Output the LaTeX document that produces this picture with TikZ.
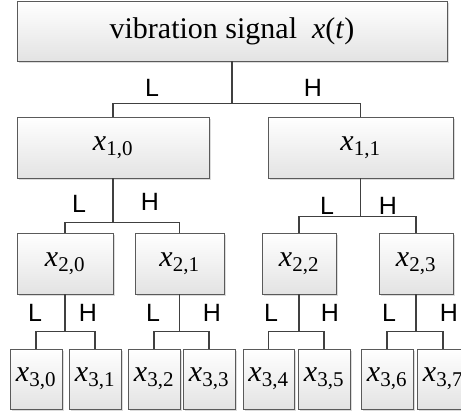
\documentclass[tikz,border=0pt]{standalone}
\usepackage{fontspec}
\setmainfont{Liberation Serif}
\newfontfamily\labelfont{Liberation Sans}
\usetikzlibrary{positioning,shadows}
\definecolor{linegray}{RGB}{64,64,64}
\definecolor{boxedge}{RGB}{90,90,90}
\newcommand{\xs}[1]{\textit{x}\textsubscript{#1}}

\begin{document}
\begin{tikzpicture}[x=1pt,y=-1pt,
  sig/.style={rectangle,draw=boxedge,line width=0.9pt,top color=white,bottom color=gray!22,
              drop shadow={shadow xshift=2pt,shadow yshift=-2pt,fill=gray!55},
              inner sep=0pt,align=center,font=\fontsize{30}{34}\selectfont},
  conn/.style={draw=linegray,line width=1.4pt},
  band/.style={font=\labelfont\fontsize{25}{28}\selectfont,inner sep=0pt}
]
\useasboundingbox (0,0) rectangle (461,414);
\clip (0,0) rectangle (461,414);
% boxes
\node[sig,minimum width=430pt,minimum height=60pt] (sig) at (232,31) {vibration signal~~\textit{x}(\textit{t})};
\node[sig,minimum width=192pt,minimum height=61pt] (x10) at (113,147.5) {\xs{1,0}};
\node[sig,minimum width=185pt,minimum height=61pt] (x11) at (360.5,147.5) {\xs{1,1}};
\node[sig,minimum width=96pt,minimum height=61pt] (x20) at (65,263.5) {\xs{2,0}};
\node[sig,minimum width=89pt,minimum height=61pt] (x21) at (179.5,263.5) {\xs{2,1}};
\node[sig,minimum width=74pt,minimum height=61pt] (x22) at (299,263.5) {\xs{2,2}};
\node[sig,minimum width=74pt,minimum height=61pt] (x23) at (416,263.5) {\xs{2,3}};
\node[sig,minimum width=52pt,minimum height=60pt] (x30) at (36,379) {\xs{3,0}};
\node[sig,minimum width=52pt,minimum height=60pt] (x31) at (95,379) {\xs{3,1}};
\node[sig,minimum width=52pt,minimum height=60pt] (x32) at (154,379) {\xs{3,2}};
\node[sig,minimum width=52pt,minimum height=60pt] (x33) at (209,379) {\xs{3,3}};
\node[sig,minimum width=51pt,minimum height=60pt] (x34) at (268.5,379) {\xs{3,4}};
\node[sig,minimum width=52pt,minimum height=60pt] (x35) at (324,379) {\xs{3,5}};
\node[sig,minimum width=52pt,minimum height=60pt] (x36) at (387,379) {\xs{3,6}};
\node[sig,minimum width=52pt,minimum height=60pt] (x37) at (443,379) {\xs{3,7}};
% splits
\draw[conn] (sig.south) -- ++(0,42) coordinate (j0);
\draw[conn] (x10.north) |- (j0) -| (x11.north);
\draw[conn] (x10.south) -- ++(0,44) coordinate (j10);
\draw[conn] (x20.north) |- (j10) -| (x21.north);
\draw[conn] (x11.south) -- ++(0,38) coordinate (j11);
\draw[conn] (x22.north) |- (j11) -| (x23.north);
\draw[conn] (x20.south) -- ++(0,37) coordinate (j20);
\draw[conn] (x30.north) |- (j20) -| (x31.north);
\draw[conn] (x21.south) -- ++(0,37) coordinate (j21);
\draw[conn] (x32.north) |- (j21) -| (x33.north);
\draw[conn] (x22.south) -- ++(0,37) coordinate (j22);
\draw[conn] (x34.north) |- (j22) -| (x35.north);
\draw[conn] (x23.south) -- ++(0,37) coordinate (j23);
\draw[conn] (x36.north) |- (j23) -| (x37.north);
% L / H labels
\node[band] (l0) at (152,88) {L};
\node[band] (h0) at (313,88) {H};
\node[band] (l10) at (79,204) {L};
\node[band] (h10) at (150,202) {H};
\node[band] (l11) at (327,206) {L};
\node[band] (h11) at (388,206) {H};
\node[band] (l20) at (35,313) {L};
\node[band] (h20) at (88,313) {H};
\node[band] (l21) at (153,313) {L};
\node[band] (h21) at (212,313) {H};
\node[band] (l22) at (271,313) {L};
\node[band] (h22) at (330,313) {H};
\node[band] (l23) at (389,313) {L};
\node[band] (h23) at (449,313) {H};
\end{tikzpicture}
\end{document}
